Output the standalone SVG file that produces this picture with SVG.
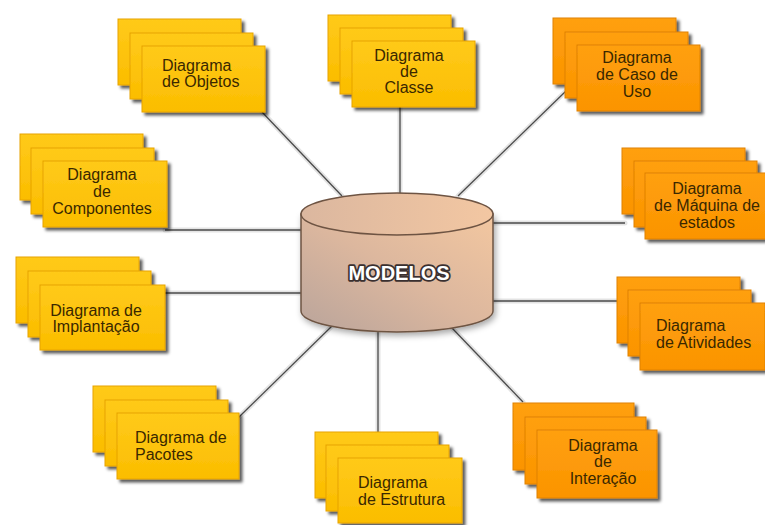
<svg xmlns="http://www.w3.org/2000/svg" width="765" height="525" viewBox="0 0 765 525">
<defs>
<filter id="sh" x="-20%" y="-20%" width="150%" height="150%">
<feDropShadow dx="3" dy="3" stdDeviation="1.6" flood-color="#000" flood-opacity="0.65"/>
</filter>
<filter id="csh" x="-20%" y="-20%" width="140%" height="140%">
<feDropShadow dx="2" dy="3" stdDeviation="3" flood-color="#000" flood-opacity="0.35"/>
</filter>
<linearGradient id="body" x1="0" y1="1" x2="1" y2="0">
<stop offset="0" stop-color="#b9a49b"/>
<stop offset="0.5" stop-color="#dcb79e"/>
<stop offset="1" stop-color="#f3c7a0"/>
</linearGradient>
<linearGradient id="top" x1="0" y1="0" x2="1" y2="0">
<stop offset="0" stop-color="#dbb79f"/>
<stop offset="1" stop-color="#f3c7a2"/>
</linearGradient>
<linearGradient id="yg" x1="0" y1="0" x2="0" y2="1">
<stop offset="0" stop-color="#ffca1a"/>
<stop offset="1" stop-color="#fbbd00"/>
</linearGradient>
<linearGradient id="og" x1="0" y1="0" x2="0" y2="1">
<stop offset="0" stop-color="#ffa010"/>
<stop offset="1" stop-color="#fb9400"/>
</linearGradient>
</defs>
<style>
.y rect{fill:url(#yg);stroke:#e8a400;stroke-width:1;filter:url(#sh)}
.o rect{fill:url(#og);stroke:#e08200;stroke-width:1;filter:url(#sh)}
text{font-family:"Liberation Sans",Arial,sans-serif;font-size:16px;fill:#3a2800}
.c{text-anchor:middle}
.glow{stroke:#d8d8d8;stroke-width:5;stroke-linecap:round;fill:none;opacity:0.7}
.ln{stroke:#4a4a4a;stroke-width:1.3;fill:none}
</style>
<rect width="765" height="525" fill="#ffffff"/>
<g id="connectors">
<g class="glow">
<line x1="262" y1="112" x2="342" y2="196"/>
<line x1="400" y1="105" x2="400" y2="194"/>
<line x1="567" y1="90" x2="458" y2="196"/>
<line x1="492" y1="223" x2="625" y2="223"/>
<line x1="165" y1="230" x2="302" y2="230"/>
<line x1="163" y1="293" x2="302" y2="293"/>
<line x1="492" y1="301" x2="620" y2="301"/>
<line x1="238" y1="418" x2="332" y2="326"/>
<line x1="378" y1="330" x2="378" y2="433"/>
<line x1="452" y1="328" x2="523" y2="402"/>
</g>
<g class="ln">
<line x1="262" y1="112" x2="342" y2="196"/>
<line x1="400" y1="105" x2="400" y2="194"/>
<line x1="567" y1="90" x2="458" y2="196"/>
<line x1="492" y1="223" x2="625" y2="223"/>
<line x1="165" y1="230" x2="302" y2="230"/>
<line x1="163" y1="293" x2="302" y2="293"/>
<line x1="492" y1="301" x2="620" y2="301"/>
<line x1="238" y1="418" x2="332" y2="326"/>
<line x1="378" y1="330" x2="378" y2="433"/>
<line x1="452" y1="328" x2="523" y2="402"/>
</g>
</g>
<g id="modelos">
<path d="M301,214 L301,311 A96,21 0 0 0 493,311 L493,214 Z" fill="url(#body)" stroke="#6e5443" stroke-width="1.5" filter="url(#csh)"/>
<ellipse cx="397" cy="214" rx="96" ry="21" fill="url(#top)" stroke="#6e5443" stroke-width="1.5"/>
<text x="399" y="280" class="c" style="font-size:20px;font-weight:bold;fill:#ffffff;stroke:#3a3030;stroke-width:3.5;paint-order:stroke;stroke-linejoin:round">MODELOS</text>
</g>
<g id="objetos" class="y" transform="translate(142,46)">
<rect x="-24" y="-27" width="123" height="66"/><rect x="-12" y="-13" width="123" height="66"/><rect x="0" y="0" width="123" height="66"/>
<text x="20" y="25">Diagrama</text><text x="20" y="41">de Objetos</text>
</g>
<g id="classe" class="y" transform="translate(352,41)">
<rect x="-24" y="-26" width="123" height="66"/><rect x="-12" y="-13" width="123" height="66"/><rect x="0" y="0" width="123" height="66"/>
<text x="57" y="20" class="c">Diagrama</text><text x="57" y="36" class="c">de</text><text x="57" y="52" class="c">Classe</text>
</g>
<g id="casodeuso" class="o" transform="translate(577,45)">
<rect x="-24" y="-27" width="123" height="66"/><rect x="-12" y="-13" width="123" height="66"/><rect x="0" y="0" width="123" height="66"/>
<text x="60" y="18" class="c">Diagrama</text><text x="60" y="35" class="c">de Caso de</text><text x="60" y="52" class="c">Uso</text>
</g>
<g id="maquina" class="o" transform="translate(645,173)">
<rect x="-23" y="-25" width="123" height="66"/><rect x="-11" y="-12" width="123" height="66"/><rect x="0" y="0" width="123" height="66"/>
<g style="font-size:15.5px"><text x="62" y="21" class="c">Diagrama</text><text x="62" y="38" class="c">de Máquina de</text><text x="62" y="55" class="c">estados</text></g>
</g>
<g id="componentes" class="y" transform="translate(43,161)">
<rect x="-23" y="-27" width="123" height="66"/><rect x="-12" y="-13" width="123" height="66"/><rect x="0" y="0" width="124" height="66"/>
<text x="59" y="19" class="c">Diagrama</text><text x="59" y="36" class="c">de</text><text x="59" y="53" class="c">Componentes</text>
</g>
<g id="implantacao" class="y" transform="translate(40,285)">
<rect x="-24" y="-28" width="123" height="66"/><rect x="-12" y="-14" width="123" height="66"/><rect x="0" y="0" width="125" height="65"/>
<text x="56" y="31" class="c">Diagrama de</text><text x="56" y="47" class="c">Implantação</text>
</g>
<g id="pacotes" class="y" transform="translate(117,413)">
<rect x="-24" y="-27" width="123" height="66"/><rect x="-12" y="-13" width="123" height="66"/><rect x="0" y="0" width="122" height="66"/>
<text x="18" y="30">Diagrama de</text><text x="18" y="47">Pacotes</text>
</g>
<g id="estrutura" class="y" transform="translate(338,458)">
<rect x="-23" y="-26" width="123" height="66"/><rect x="-12" y="-13" width="123" height="66"/><rect x="0" y="0" width="124" height="65"/>
<text x="20" y="30">Diagrama</text><text x="20" y="47">de Estrutura</text>
</g>
<g id="interacao" class="o" transform="translate(537,430)">
<rect x="-24" y="-27" width="121" height="67"/><rect x="-12" y="-13" width="121" height="67"/><rect x="0" y="0" width="120" height="68"/>
<text x="66" y="21" class="c">Diagrama</text><text x="66" y="37" class="c">de</text><text x="66" y="54" class="c">Interação</text>
</g>
<g id="atividades" class="o" transform="translate(640,303)">
<rect x="-23" y="-26" width="123" height="66"/><rect x="-12" y="-13" width="123" height="66"/><rect x="0" y="0" width="125" height="67"/>
<text x="16" y="28">Diagrama</text><text x="16" y="45">de Atividades</text>
</g>
</svg>
